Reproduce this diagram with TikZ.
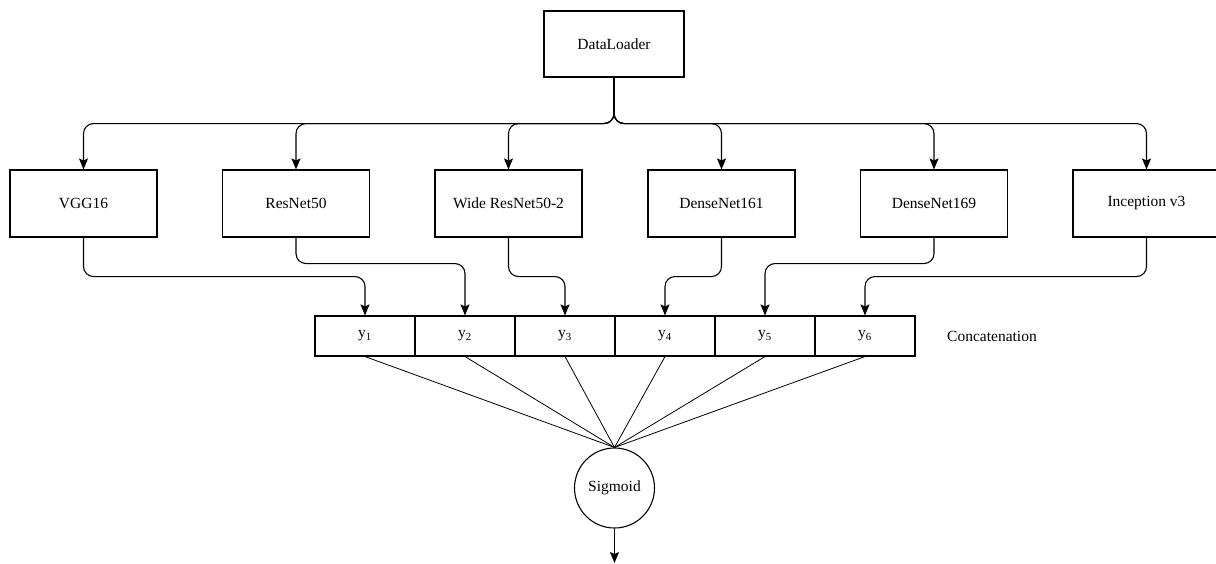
\documentclass[tikz,border=0pt]{standalone}
\usepackage{fontspec}
\setmainfont{Liberation Serif}
\usetikzlibrary{arrows.meta}

\begin{document}
\begin{tikzpicture}[x=1pt,y=-1pt,line width=1.1pt,
    font=\fontsize{15.5}{18}\selectfont,
    netbox/.style={draw,minimum width=147pt,minimum height=67pt,inner sep=0pt},
    cell/.style={draw,minimum width=100pt,minimum height=40pt,inner sep=0pt},
    tip/.style={-{Stealth[length=11pt,width=9pt,inset=2pt]}},
    flow/.style={tip,rounded corners=10pt}]
  \useasboundingbox (0,0) rectangle (1216,563);

  \node[draw,minimum width=140pt,minimum height=66pt] (loader) at (614,44) {DataLoader};

  %% backbones
  \node[netbox] (vgg) at (83.5,203.5) {VGG16};
  \node[netbox] (resnet) at (296,203.5) {ResNet50};
  \node[netbox] (wide) at (508.5,203.5) {Wide ResNet50-2};
  \node[netbox] (dense161) at (721.5,203.5) {DenseNet161};
  \node[netbox] (dense169) at (934,203.5) {DenseNet169};
  \node[netbox] (incep) at (1146.5,203.5) {Inception v3};

  %% fan out
  \foreach \n in {vgg,resnet,wide,dense161,dense169,incep}
    \draw[flow] (loader.south) -- ++(0,46) -| (\n.north);

  %% concatenation
  \foreach \i in {1,...,6}
    \node[cell] (y\i) at (265+100*\i,336) {y\textsubscript{\i}};
  \node (concat) at (992,336) {Concatenation};

  %% backbone outputs
  \draw[flow] (vgg.south) -- ++(0,39) -| (y1.north);
  \draw[flow] (resnet.south) -- ++(0,26) -| (y2.north);
  \draw[flow] (wide.south) -- ++(0,39) -| (y3.north);
  \draw[flow] (dense161.south) -- ++(0,39) -| (y4.north);
  \draw[flow] (dense169.south) -- ++(0,26) -| (y5.north);
  \draw[flow] (incep.south) -- ++(0,39) -| (y6.north);

  %% sigmoid
  \node[draw,circle,minimum size=80pt,inner sep=0pt] (sig) at (614.5,488) {Sigmoid};
  \foreach \i in {1,...,6}
    \draw[line width=0.8pt] (y\i.south) -- (sig.north);
  \coordinate (out) at (614.5,563);
  \draw[tip] (sig.south) -- (out);

\end{tikzpicture}
\end{document}
